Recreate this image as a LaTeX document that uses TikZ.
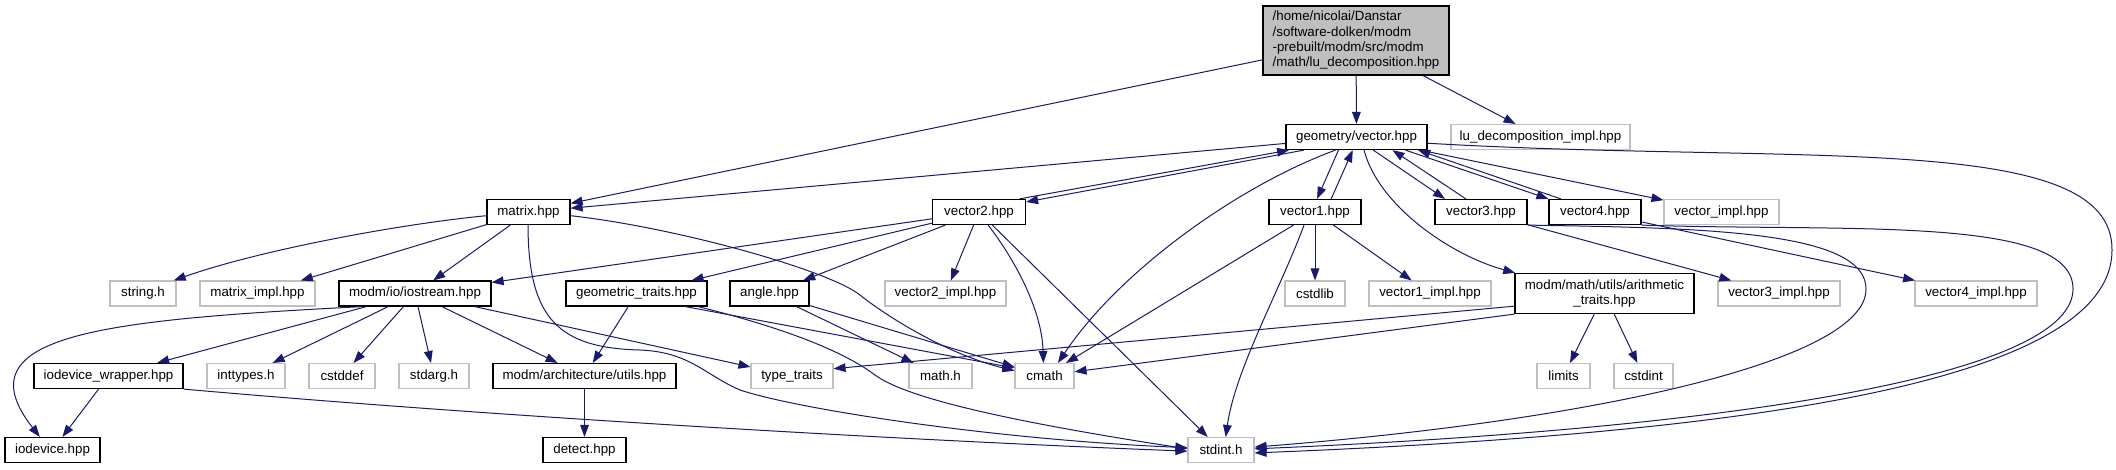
\documentclass[tikz,border=0pt]{standalone}
\usepackage{fontspec}
\setmainfont{Liberation Sans}
\usetikzlibrary{arrows.meta}
\definecolor{edgeblue}{HTML}{191970}
\definecolor{nodegrey}{HTML}{BFBFBF}

\begin{document}
\begin{tikzpicture}[
    x=0.75pt, y=-0.75pt,
    file/.style={rectangle, draw=black, line width=0.9pt, minimum height=18.75pt, inner xsep=1pt, inner ysep=1pt, align=center, font=\fontsize{10}{11.5}\selectfont},
    ext/.style={file, draw=nodegrey, line width=0.8pt},
    boxw/.style={minimum width=#1*0.75pt},
    inc/.style={-{Triangle[length=9pt, width=6.5pt]}, draw=edgeblue, line width=0.75pt}
]
    \path[use as bounding box, fill=white] (0,0) rectangle (2116,469);

    \node[file, fill=nodegrey, align=left, boxw=186, minimum height=51.75pt] (root) at (1356,40.5) {/home/nicolai/Danstar\\/software-dolken/modm\\-prebuilt/modm/src/modm\\/math/lu\_decomposition.hpp};

    \node[file, boxw=141] (vec) at (1356.5,137) {geometry/vector.hpp};
    \node[ext, boxw=179] (luimpl) at (1540.5,137) {lu\_decomposition\_impl.hpp};

    \node[file, boxw=83] (matrix) at (528.5,212) {matrix.hpp};
    \node[file, boxw=93] (vtwo) at (979,212) {vector2.hpp};
    \node[file, boxw=92] (vone) at (1315,212) {vector1.hpp};
    \node[file, boxw=92] (vthree) at (1481,212) {vector3.hpp};
    \node[file, boxw=92] (vfour) at (1595,212) {vector4.hpp};
    \node[ext, boxw=115] (vimpl) at (1721.5,212) {vector\_impl.hpp};

    \node[ext, boxw=66] (strh) at (143,293.5) {string.h};
    \node[ext, boxw=115] (matimpl) at (257.5,293.5) {matrix\_impl.hpp};
    \node[file, boxw=152] (iostream) at (415,293.5) {modm/io/iostream.hpp};
    \node[file, boxw=141] (geomtr) at (636.5,293.5) {geometric\_traits.hpp};
    \node[file, boxw=79] (angleh) at (769.5,293.5) {angle.hpp};
    \node[ext, boxw=121] (vtwoimpl) at (945.5,293.5) {vector2\_impl.hpp};
    \node[ext, boxw=60] (cstdlib) at (1315,293.5) {cstdlib};
    \node[ext, boxw=122] (voneimpl) at (1430,293.5) {vector1\_impl.hpp};
    \node[file, boxw=179, minimum height=30pt] (arith) at (1604.5,293.5) {modm/math/utils/arithmetic\\\_traits.hpp};
    \node[ext, boxw=122] (vthreeimpl) at (1779,293.5) {vector3\_impl.hpp};
    \node[ext, boxw=122] (vfourimpl) at (1976,293.5) {vector4\_impl.hpp};

    \node[file, boxw=149] (iowrap) at (108.5,376) {iodevice\_wrapper.hpp};
    \node[ext, boxw=78] (inttypes) at (246,376) {inttypes.h};
    \node[ext, boxw=66] (cstddef) at (342,376) {cstddef};
    \node[ext, boxw=70] (stdarg) at (434,376) {stdarg.h};
    \node[file, boxw=183] (archutils) at (584.5,376) {modm/architecture/utils.hpp};
    \node[ext, boxw=82] (typetraits) at (792,376) {type\_traits};
    \node[ext, boxw=63] (mathh) at (940.5,376) {math.h};
    \node[ext, boxw=59] (cmath) at (1044.5,376) {cmath};
    \node[ext, boxw=53] (limits) at (1563.5,376) {limits};
    \node[ext, boxw=59] (cstdint) at (1643.5,376) {cstdint};

    \node[file, boxw=95] (iodev) at (52.5,450) {iodevice.hpp};
    \node[file, boxw=83] (detect) at (584.5,450) {detect.hpp};
    \node[ext, boxw=66] (stdint) at (1221,450) {stdint.h};

    \draw[inc] (root) -- (matrix);
    \draw[inc] (root) -- (vec);
    \draw[inc] (root) -- (luimpl);

    \draw[inc] (vec) -- (matrix);
    \draw[inc] (vec.194) -- (vtwo.12);
    \draw[inc] (vtwo.18) -- (vec.191);
    \draw[inc] (vec.216) -- (vone.81);
    \draw[inc] (vone.39) -- (vec.254);
    \draw[inc] (vec.322) -- (vthree.160);
    \draw[inc] (vthree.139) -- (vec.340);
    \draw[inc] (vec.345) -- (vfour.north west);
    \draw[inc] (vfour.159) -- (vec.348);
    \draw[inc] (vec) -- (vimpl);
    \draw[inc] (vec.212) .. controls (1240,185) and (1120,270) .. (cmath.44);
    \draw[inc] (vec.300) .. controls (1378,205) and (1450,255) .. (arith.167);
    \draw[inc] (vec.-5) .. controls (1800,165) and (2113,130) .. (2112,250) .. controls (2112,390) and (1700,435) .. (stdint.355);

    \draw[inc] (matrix.185) .. controls (400,224) and (260,250) .. (strh.23);
    \draw[inc] (matrix) -- (matimpl);
    \draw[inc] (matrix) -- (iostream);
    \draw[inc] (matrix.355) .. controls (680,228) and (830,271) .. (860,295) .. controls (890,319) and (950,355) .. (cmath.170);
    \draw[inc] (matrix.268) .. controls (528,320) and (560,348) .. (640,350) .. controls (690,352) and (705,375) .. (740,390) .. controls (800,410) and (1000,440) .. (stdint.176);

    \draw[inc] (vtwo) -- (iostream);
    \draw[inc] (vtwo) -- (geomtr);
    \draw[inc] (vtwo) -- (angleh);
    \draw[inc] (vtwo) -- (vtwoimpl);
    \draw[inc] (vtwo.305) .. controls (1015,260) and (1042,310) .. (cmath.95);
    \draw[inc] (vtwo) -- (stdint);

    \draw[inc] (vone) -- (cmath);
    \draw[inc] (vone.230) .. controls (1280,290) and (1235,370) .. (stdint.70);
    \draw[inc] (vone) -- (cstdlib);
    \draw[inc] (vone) -- (voneimpl);

    \draw[inc] (vthree) -- (vthreeimpl);
    \draw[inc] (vthree.south east) .. controls (1700,228) and (1868,230) .. (1866,290) .. controls (1864,360) and (1600,420) .. (stdint.5);
    \draw[inc] (vfour) -- (vfourimpl);
    \draw[inc] (vfour.south east) .. controls (1850,232) and (2075,215) .. (2073,290) .. controls (2070,380) and (1700,430) .. (stdint.2);

    \draw[inc] (iostream.194) .. controls (100,320) and (-40,335) .. (iodev.134);
    \draw[inc] (iostream) -- (iowrap);
    \draw[inc] (iostream) -- (inttypes);
    \draw[inc] (iostream) -- (cstddef);
    \draw[inc] (iostream) -- (stdarg);
    \draw[inc] (iostream) -- (archutils);
    \draw[inc] (iostream) -- (typetraits);

    \draw[inc] (iowrap) -- (iodev);
    \draw[inc] (iowrap.south east) .. controls (500,417) and (900,440) .. (stdint.182);

    \draw[inc] (geomtr) -- (archutils);
    \draw[inc] (geomtr.-15) -- (cmath.165);
    \draw[inc] (geomtr.-12) .. controls (760,322) and (835,345) .. (875,375) .. controls (905,397) and (1000,420) .. (stdint.178);

    \draw[inc] (angleh) -- (mathh);
    \draw[inc] (angleh) -- (cmath);

    \draw[inc] (arith.188) -- (typetraits.10);
    \draw[inc] (arith.south west) -- (cmath.8);
    \draw[inc] (arith) -- (limits);
    \draw[inc] (arith) -- (cstdint);

    \draw[inc] (archutils) -- (detect);
\end{tikzpicture}
\end{document}
